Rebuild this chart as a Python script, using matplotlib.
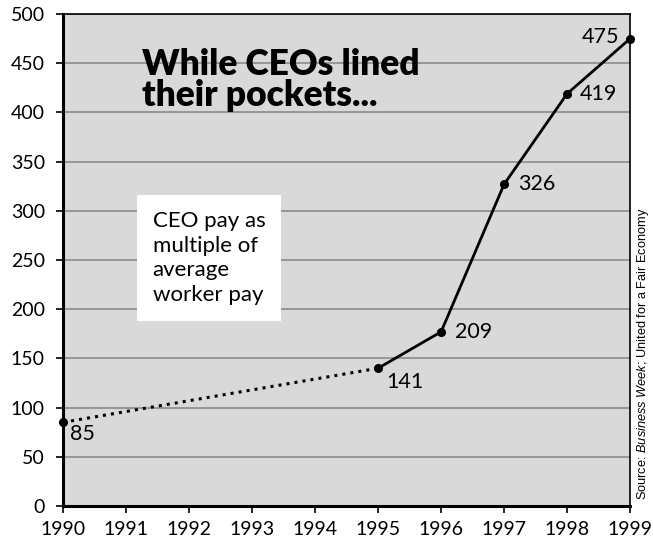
"""
CEO pay as multiple of average worker pay, 1990-1999
"""

import matplotlib
matplotlib.use("Agg")
import matplotlib.pyplot as plt

plt.rcParams['font.family'] = ['Lato', 'DejaVu Sans']
plt.rcParams['mathtext.fontset'] = 'custom'
plt.rcParams['mathtext.rm'] = 'Liberation Sans'
plt.rcParams['mathtext.it'] = 'Liberation Sans:italic'

# data
years = [1990, 1995, 1996, 1997, 1998, 1999]
ratio = [85, 140, 177, 327, 419, 475]
point_labels = ['85', '141', '209', '326', '419', '475']
# where each label sits relative to its point (offset in points, alignment)
label_pos = [((5, -1), 'left', 'top'),
             ((6, -3), 'left', 'top'),
             ((10, 0), 'left', 'center'),
             ((10, 0), 'left', 'center'),
             ((9, 0), 'left', 'center'),
             ((-8, 1), 'right', 'center')]

fig = plt.figure(figsize=(6.53, 5.46), dpi=100)
ax = fig.add_axes([0.0965, 0.0733, 0.8685, 0.901])
ax.set_facecolor('#d9d9d9')

# dotted part 1990-1995, solid afterwards
ax.plot(years[:2], ratio[:2], color='black', linestyle=':', linewidth=2.2)
ax.plot(years[1:], ratio[1:], color='black', linewidth=2)
ax.plot(years, ratio, 'o', color='black', markersize=5.5, clip_on=False, zorder=5)

for x, y, lab, (off, ha, va) in zip(years, ratio, point_labels, label_pos):
    ax.annotate(lab, (x, y), xytext=off, textcoords='offset points',
                ha=ha, va=va, fontsize=15.5)

ax.set_xlim(1990, 1999)
ax.set_ylim(0, 500)
ax.set_xticks(range(1990, 2000))
ax.set_yticks(range(0, 501, 50))
ax.tick_params(labelsize=14, length=5, width=1.2, color='black')
ax.tick_params(axis='x', pad=6)
ax.tick_params(axis='y', pad=8)
ax.yaxis.grid(True, color='#8c8c8c', linewidth=1.2)
ax.set_axisbelow(True)
for s in ['left', 'bottom']:
    ax.spines[s].set_linewidth(2.2)
for s in ['top', 'right']:
    ax.spines[s].set_linewidth(1.2)

ax.text(0.14, 0.93, 'While CEOs lined\ntheir pockets...', transform=ax.transAxes,
        fontsize=25.5, fontweight='heavy', ha='left', va='top', linespacing=0.9)

ax.text(0.158, 0.6, 'CEO pay as\nmultiple of\naverage\nworker pay', transform=ax.transAxes,
        fontsize=16, ha='left', va='top', linespacing=1.3,
        bbox=dict(facecolor='white', edgecolor='none', pad=11))

fig.text(0.984, 0.085, r'Source: $\it{Business\ Week}$; United for a Fair Economy',
         rotation=90, ha='center', va='bottom', fontsize=9.2, family='Liberation Sans')

fig.savefig('out.png', dpi=100)
